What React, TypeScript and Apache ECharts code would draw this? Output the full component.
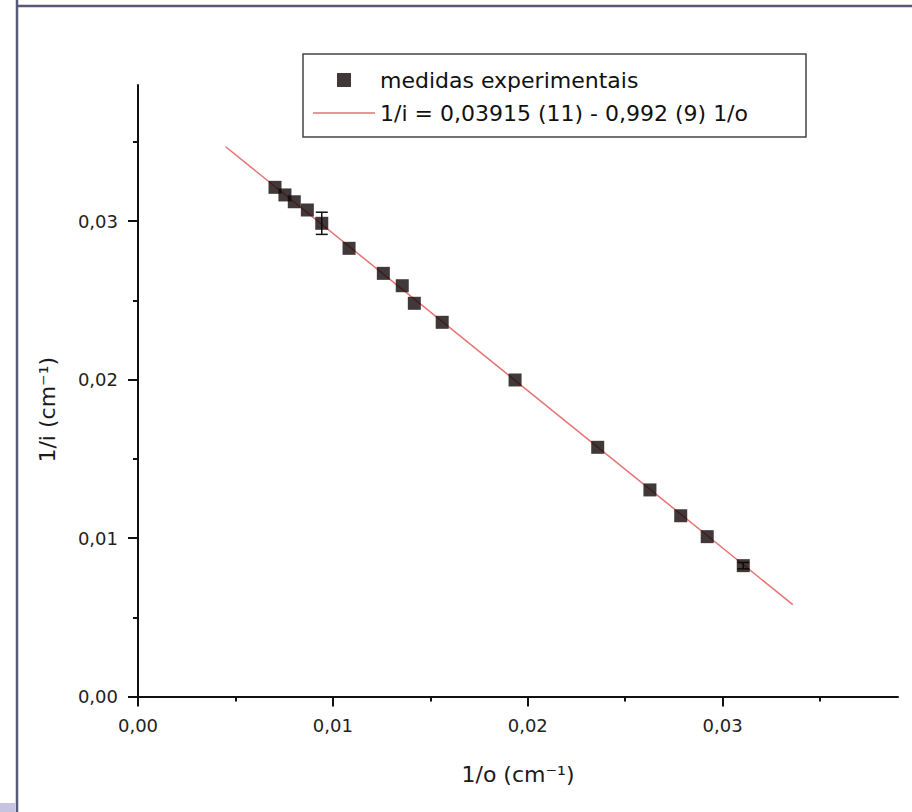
import React, { useEffect, useRef } from 'react';
import * as echarts from 'echarts';

// Data
const xValues = [0.00703, 0.00754, 0.00802, 0.00869, 0.00943, 0.01083, 0.01259, 0.01356, 0.01418, 0.01561, 0.01935, 0.02359, 0.02627, 0.02785, 0.02921, 0.03106];
const yValues = [0.03214, 0.03166, 0.03123, 0.03071, 0.02987, 0.02829, 0.02671, 0.02593, 0.02482, 0.02362, 0.01998, 0.01573, 0.01304, 0.01141, 0.01009, 0.00826];
const yErrors = [0, 0, 0, 0, 0.0007, 0, 0, 0, 0, 0, 0, 0, 0, 0, 0, 0.0002];
const fitX = [0.0045, 0.0336];
const fitY = [0.0347, 0.0058];
const majorTicks = [0, 0.01, 0.02, 0.03];
const minorTicks = [0.005, 0.015, 0.025, 0.035];
const scatterName = 'medidas experimentais';
const fitName = '1/i = 0,03915 (11) - 0,992 (9) 1/o';
const xTitle = '1/o (cm⁻¹)';
const yTitle = '1/i (cm⁻¹)';

const FONT = 'DejaVu Sans';

export default function App() {
  const ref = useRef<HTMLDivElement>(null);
  useEffect(() => {
    if (!ref.current) return;
    const chart = echarts.init(ref.current, null, { renderer: 'svg' });
    const fmt = (v: number) => v.toFixed(2).replace('.', ',');
    const scatterData = xValues.map((x, i) => [x, yValues[i]]);
    const errData = xValues
      .map((x, i) => [x, yValues[i], yErrors[i]])
      .filter((d) => d[2] > 0);
    const fitData = fitX.map((x, i) => [x, fitY[i]]);

    const axisLineStyle = { color: '#111', width: 2 };
    const labelStyle = { fontFamily: FONT, fontSize: 18, color: '#222' };

    chart.setOption({
      animation: false,
      backgroundColor: '#fff',
      grid: { left: 138, right: 14, top: 85, bottom: 115.5, containLabel: false },
      xAxis: [
        {
          type: 'value',
          position: 'bottom',
          min: 0,
          max: 0.039,
          name: xTitle,
          nameLocation: 'middle',
          nameGap: 67,
          nameTextStyle: { fontFamily: FONT, fontSize: 22, color: '#1a1a1a' },
          axisLine: { show: true, lineStyle: axisLineStyle },
          axisTick: { show: true, customValues: majorTicks, length: 10, lineStyle: { color: '#111', width: 2 } },
          axisLabel: { show: true, customValues: majorTicks, formatter: fmt, margin: 20, ...labelStyle },
          splitLine: { show: false },
        },
        {
          type: 'value',
          position: 'bottom',
          min: 0,
          max: 0.039,
          axisLine: { show: false },
          axisTick: { show: true, customValues: minorTicks, length: 5, lineStyle: { color: '#111', width: 2 } },
          axisLabel: { show: false },
          splitLine: { show: false },
        },
      ],
      yAxis: [
        {
          type: 'value',
          position: 'left',
          min: 0,
          max: 0.0386,
          name: yTitle,
          nameLocation: 'middle',
          nameGap: 80,
          nameTextStyle: { fontFamily: FONT, fontSize: 22, color: '#1a1a1a', padding: [0, 38, 0, 0] },
          axisLine: { show: true, lineStyle: axisLineStyle },
          axisTick: { show: true, customValues: majorTicks, length: 10, lineStyle: { color: '#111', width: 2 } },
          axisLabel: { show: true, customValues: majorTicks, formatter: fmt, margin: 20, ...labelStyle },
          splitLine: { show: false },
        },
        {
          type: 'value',
          position: 'left',
          min: 0,
          max: 0.0386,
          axisLine: { show: false },
          axisTick: { show: true, customValues: minorTicks, length: 5, lineStyle: { color: '#111', width: 2 } },
          axisLabel: { show: false },
          splitLine: { show: false },
        },
      ],
      legend: {
        left: 303,
        top: 54,
        orient: 'vertical',
        padding: [14, 58, 12, 10],
        itemGap: 9,
        itemWidth: 62,
        itemHeight: 14,
        symbolKeepAspect: true,
        borderColor: '#444',
        borderWidth: 1.5,
        backgroundColor: '#fff',
        textStyle: { fontFamily: FONT, fontSize: 22, color: '#111', lineHeight: 24 },
        data: [
          { name: scatterName, icon: 'path://M0,0H10V10H0Z' },
          { name: fitName, icon: 'path://M0,0H60V1.5H0Z' },
        ],
      },
      series: [
        {
          name: fitName,
          type: 'line',
          data: fitData,
          symbol: 'none',
          lineStyle: { color: '#e57373', width: 1.5 },
          itemStyle: { color: '#e57373' },
          z: 2,
        },
        {
          name: 'erro',
          type: 'custom',
          data: errData,
          encode: { x: 0, y: 1 },
          z: 3,
          renderItem: (params: any, api: any) => {
            const x = api.value(0);
            const y = api.value(1);
            const e = api.value(2);
            const top = api.coord([x, y + e]);
            const bot = api.coord([x, y - e]);
            const hw = 6;
            const style = { stroke: '#111', lineWidth: 1.5 };
            return {
              type: 'group',
              children: [
                { type: 'line', shape: { x1: top[0], y1: top[1], x2: bot[0], y2: bot[1] }, style },
                { type: 'line', shape: { x1: top[0] - hw, y1: top[1], x2: top[0] + hw, y2: top[1] }, style },
                { type: 'line', shape: { x1: bot[0] - hw, y1: bot[1], x2: bot[0] + hw, y2: bot[1] }, style },
              ],
            };
          },
        },
        {
          name: scatterName,
          type: 'scatter',
          data: scatterData,
          symbol: 'rect',
          symbolSize: 13,
          itemStyle: { color: '#120808' },
          z: 4,
        },
      ],
      graphic: [
        { type: 'line', shape: { x1: 17, y1: 0, x2: 17, y2: 812 }, style: { stroke: '#585878', lineWidth: 2.5 }, silent: true },
        { type: 'line', shape: { x1: 17, y1: 6, x2: 912, y2: 6 }, style: { stroke: '#585878', lineWidth: 2.5 }, silent: true },
        { type: 'rect', shape: { x: 0, y: 803, width: 15.5, height: 9 }, style: { fill: '#c4c4e0' }, silent: true },
      ],
    });
    return () => chart.dispose();
  }, []);
  return (
    <div
      ref={ref}
      style={{ position: 'fixed', left: 0, top: 0, width: 912, height: 812, background: '#fff' }}
    />
  );
}
